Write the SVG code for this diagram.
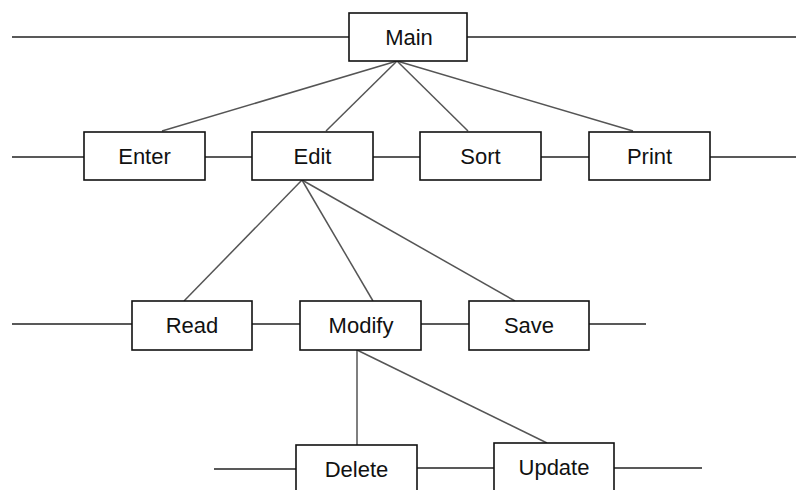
<svg xmlns="http://www.w3.org/2000/svg" width="796" height="490" viewBox="0 0 796 490">
<style>
.box{fill:#fff;stroke:#111;stroke-width:1.6}
.bus{stroke:#222;stroke-width:1.6;fill:none}
.con{stroke:#555;stroke-width:1.5;fill:none}
text{font-family:"Liberation Sans",Arial,sans-serif;font-size:22px;fill:#111;text-anchor:middle}
</style>
<rect width="796" height="490" fill="#fff"/>
<g id="connectors">
<line class="bus" x1="12" y1="37" x2="349" y2="37"/>
<line class="bus" x1="467" y1="37" x2="796" y2="37"/>
<line class="bus" x1="12" y1="157" x2="84" y2="157"/>
<line class="bus" x1="205" y1="157" x2="252" y2="157"/>
<line class="bus" x1="373" y1="157" x2="420" y2="157"/>
<line class="bus" x1="541" y1="157" x2="589" y2="157"/>
<line class="bus" x1="710" y1="157" x2="796" y2="157"/>
<line class="bus" x1="12" y1="324" x2="132" y2="324"/>
<line class="bus" x1="252" y1="324" x2="300" y2="324"/>
<line class="bus" x1="421" y1="324" x2="469" y2="324"/>
<line class="bus" x1="589" y1="324" x2="646" y2="324"/>
<line class="bus" x1="214" y1="469" x2="296" y2="469"/>
<line class="bus" x1="417" y1="468" x2="494" y2="468"/>
<line class="bus" x1="614" y1="468" x2="702" y2="468"/>
<line class="con" x1="397" y1="61" x2="162" y2="131"/>
<line class="con" x1="397" y1="61" x2="326" y2="131"/>
<line class="con" x1="397" y1="61" x2="468" y2="131"/>
<line class="con" x1="397" y1="61" x2="633" y2="131"/>
<line class="con" x1="302" y1="180" x2="184" y2="301"/>
<line class="con" x1="302" y1="180" x2="373" y2="301"/>
<line class="con" x1="302" y1="180" x2="515" y2="301"/>
<line class="con" x1="357" y1="350" x2="357" y2="445"/>
<line class="con" x1="357" y1="350" x2="547" y2="443"/>
</g>
<g id="main"><rect class="box" x="349" y="13" width="118" height="48"/><text x="409" y="45">Main</text></g>
<g id="enter"><rect class="box" x="84" y="132" width="121" height="48"/><text x="144.5" y="164">Enter</text></g>
<g id="edit"><rect class="box" x="252" y="132" width="121" height="48"/><text x="312.5" y="164">Edit</text></g>
<g id="sort"><rect class="box" x="420" y="132" width="121" height="48"/><text x="480.5" y="164">Sort</text></g>
<g id="print"><rect class="box" x="589" y="132" width="121" height="48"/><text x="649.5" y="164">Print</text></g>
<g id="read"><rect class="box" x="132" y="301" width="120" height="49"/><text x="192" y="333">Read</text></g>
<g id="modify"><rect class="box" x="300" y="301" width="121" height="49"/><text x="361" y="333">Modify</text></g>
<g id="save"><rect class="box" x="469" y="301" width="120" height="49"/><text x="529" y="333">Save</text></g>
<g id="delete"><rect class="box" x="296" y="445" width="121" height="50"/><text x="356.5" y="477">Delete</text></g>
<g id="update"><rect class="box" x="494" y="443" width="120" height="52"/><text x="554" y="475">Update</text></g>
</svg>
